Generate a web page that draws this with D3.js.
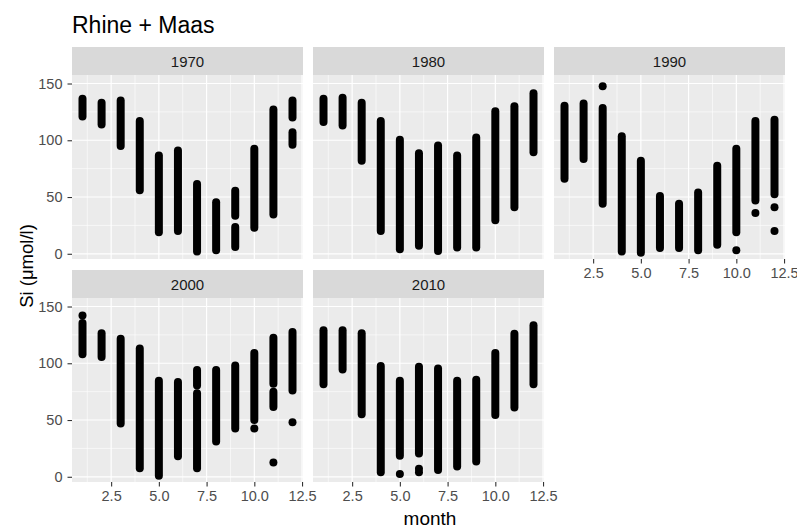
<!DOCTYPE html>
<html>
<head>
<meta charset="utf-8">
<style>
    body { margin: 0; background: #fff; }
    svg { font-family: "Liberation Sans", Arial, Helvetica, sans-serif; }
    .grid-major { stroke: #fff; stroke-width: 1.2; }
    .grid-minor { stroke: #fff; stroke-width: 0.6; }
    .tick-label { fill: #4d4d4d; font-size: 14.5px; }
    .strip-label { fill: #1a1a1a; font-size: 15px; }
</style>
</head>
<body>
<script src="https://cdnjs.cloudflare.com/ajax/libs/d3/7.8.5/d3.min.js"></script>
<script>

    // Si columns per month: [month, low, high], plus loose points [month, value]
    var decades = ["1970", "1980", "1990", "2000", "2010"];

    var ranges1970 = [[1,121,136.5],[2,114,133],[3,95,135],[4,56,117],[5,19,86.5],[6,20,91],
        [7,2,61.5],[8,3,45.5],[9,33.5,55.5],[9,6,23.5],[10,23,92.5],[11,34.5,127],[12,120,135],[12,96,107]];
    var points1970 = [];

    var ranges1980 = [[1,116,136.5],[2,113,137.5],[3,82,133],[4,20,117],[5,4,100.5],[6,7,88.5],
        [7,2.5,95.5],[8,5.5,86.5],[9,5.5,102.5],[10,29.5,125.5],[11,41,130],[12,89.5,141.5]];
    var points1980 = [];

    var ranges1990 = [[1,66,130.5],[2,83.5,132.5],[3,44,128.5],[4,2,103.5],[5,1,82],[6,5,51],
        [7,5,44],[8,3,54],[9,8,77.5],[10,19,92.5],[11,47,117],[12,52.5,118]];
    var points1990 = [[3,147.5],[10,3],[11,36],[12,41],[12,20]];

    var ranges2000 = [[1,108,135.5],[2,105.5,126.5],[3,47,121.5],[4,7.5,113],[5,1,84.5],[6,18,83.5],
        [7,80.5,94],[7,7.5,73.5],[8,31,94],[9,42.5,98],[10,50,109],[11,82,122.5],[11,61.5,75],[12,76,127.5]];
    var points2000 = [[1,142],[10,42.5],[11,12.5],[12,48]];

    var ranges2010 = [[1,81.5,129],[2,94.5,129],[3,55,126.5],[4,4,97.5],[5,18.5,84.5],[6,20.5,97],
        [7,6,95.5],[8,9,84.5],[9,13.5,85.5],[10,54.5,109],[11,61,126],[12,81.5,133.5]];
    var points2010 = [[5,2.5],[6,4],[6,7]];

    var rangesByDecade = [ranges1970, ranges1980, ranges1990, ranges2000, ranges2010];
    var pointsByDecade = [points1970, points1980, points1990, points2000, points2010];

    var yTicks = [0, 50, 100, 150];
    var yMinor = [25, 75, 125];
    var xTicks = [2.5, 5.0, 7.5, 10.0, 12.5];
    var xMinor = [1.25, 3.75, 6.25, 8.75, 11.25];

    var width = 797, height = 528;
    var panelW = 231, gapX = 10, left0 = 72;
    var stripH = 28;
    var rowTops = [47, 270];          // top of strip
    var panelH = 184;
    var r = 4;

    var svg = d3.select("body").append("svg")
        .attr("width", width)
        .attr("height", height);

    var x = d3.scaleLinear().domain([0.45, 12.55]).range([0, panelW]);
    var y = d3.scaleLinear().domain([-4.6, 157.5]).range([panelH, 0]);

    svg.append("text")
        .attr("x", 72).attr("y", 33)
        .attr("font-size", 23)
        .attr("fill", "#000")
        .text("Rhine + Maas");

    decades.forEach(function(dec, i) {
        var col = i % 3, row = Math.floor(i / 3);
        var px = left0 + col * (panelW + gapX);
        var py = rowTops[row] + stripH;

        // strip
        svg.append("rect")
            .attr("x", px).attr("y", rowTops[row])
            .attr("width", panelW).attr("height", stripH)
            .attr("fill", "#d9d9d9");
        svg.append("text")
            .attr("class", "strip-label")
            .attr("x", px + panelW / 2).attr("y", rowTops[row] + stripH / 2 + 5.5)
            .attr("text-anchor", "middle")
            .text(dec);

        var g = svg.append("g").attr("transform", "translate(" + px + "," + py + ")");

        g.append("rect")
            .attr("width", panelW).attr("height", panelH)
            .attr("fill", "#ebebeb");

        g.selectAll(".ymin").data(yMinor).enter().append("line")
            .attr("class", "grid-minor")
            .attr("x1", 0).attr("x2", panelW)
            .attr("y1", function(d) { return y(d); }).attr("y2", function(d) { return y(d); });
        g.selectAll(".xmin").data(xMinor).enter().append("line")
            .attr("class", "grid-minor")
            .attr("y1", 0).attr("y2", panelH)
            .attr("x1", function(d) { return x(d); }).attr("x2", function(d) { return x(d); });
        g.selectAll(".ymaj").data(yTicks).enter().append("line")
            .attr("class", "grid-major")
            .attr("x1", 0).attr("x2", panelW)
            .attr("y1", function(d) { return y(d); }).attr("y2", function(d) { return y(d); });
        g.selectAll(".xmaj").data(xTicks).enter().append("line")
            .attr("class", "grid-major")
            .attr("y1", 0).attr("y2", panelH)
            .attr("x1", function(d) { return x(d); }).attr("x2", function(d) { return x(d); });

        // dense columns of points drawn as round-capped strokes
        g.selectAll(".col").data(rangesByDecade[i]).enter().append("line")
            .attr("x1", function(d) { return x(d[0]); })
            .attr("x2", function(d) { return x(d[0]); })
            .attr("y1", function(d) { return y(d[1]); })
            .attr("y2", function(d) { return y(d[2]); })
            .attr("stroke", "#000")
            .attr("stroke-width", r * 2)
            .attr("stroke-linecap", "round");

        g.selectAll(".pt").data(pointsByDecade[i]).enter().append("circle")
            .attr("cx", function(d) { return x(d[0]); })
            .attr("cy", function(d) { return y(d[1]); })
            .attr("r", r)
            .attr("fill", "#000");

        // y axis on first column
        if (col === 0) {
            var ya = g.append("g")
                .call(d3.axisLeft(y).tickValues(yTicks).tickSize(4.5).tickPadding(5).tickFormat(d3.format("d")));
            ya.select(".domain").remove();
            ya.selectAll("line").attr("stroke", "#333").attr("stroke-width", 1.1);
            ya.selectAll("text").attr("class", "tick-label").attr("fill", null);
        }
        // x axis where nothing sits below
        if (row === 1 || i === 2) {
            var xa = g.append("g")
                .attr("transform", "translate(0," + panelH + ")")
                .call(d3.axisBottom(x).tickValues(xTicks).tickSize(4.5).tickPadding(4).tickFormat(d3.format(".1f")));
            xa.select(".domain").remove();
            xa.selectAll("line").attr("stroke", "#333").attr("stroke-width", 1.1);
            xa.selectAll("text").attr("class", "tick-label").attr("fill", null);
        }
    });

    svg.append("text")
        .attr("transform", "translate(33,266) rotate(-90)")
        .attr("text-anchor", "middle")
        .attr("font-size", 18.5)
        .text("Si (μmol/l)");

    svg.append("text")
        .attr("x", 430).attr("y", 525)
        .attr("text-anchor", "middle")
        .attr("font-size", 19)
        .text("month");

</script>
</body>
</html>
